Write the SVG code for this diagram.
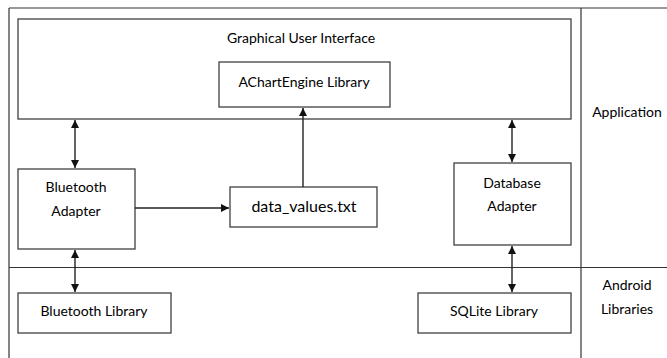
<svg xmlns="http://www.w3.org/2000/svg" width="667" height="358" viewBox="0 0 667 358">
<style>
.box{fill:#fff;stroke:#404040;stroke-width:1.3}
.frame{fill:none;stroke:#333;stroke-width:1.2}
.t{font-family:Lato,"Liberation Sans",Arial,sans-serif;font-size:14px;fill:#000;text-anchor:middle}
.big{font-size:16px}
.c{fill:none;stroke:#222;stroke-width:1.4}
</style>
<defs>
<marker id="ah" viewBox="0 0 10 10" refX="10" refY="5" markerWidth="8" markerHeight="8" markerUnits="userSpaceOnUse" orient="auto-start-reverse">
<path d="M0,0 L10,5 L0,10 z" fill="#111"/>
</marker>
</defs>
<rect width="667" height="358" fill="#fff"/>
<g id="frame">
<line class="frame" x1="9" y1="8" x2="667" y2="8"/>
<line class="frame" x1="9" y1="8" x2="9" y2="358"/>
<line class="frame" x1="581" y1="8" x2="581" y2="358"/>
<line class="frame" x1="9" y1="267.5" x2="667" y2="267.5"/>
</g>
<g id="gui">
<rect class="box" x="18" y="19" width="553" height="100"/>
<text class="t" x="301" y="43">Graphical User Interface</text>
</g>
<g id="achart">
<rect class="box" x="219" y="62" width="171" height="45"/>
<text class="t" x="304" y="87">AChartEngine Library</text>
</g>
<g id="bt-adapter">
<rect class="box" x="18" y="169" width="117" height="80"/>
<text class="t" x="76" y="192">Bluetooth</text>
<text class="t" x="76" y="216">Adapter</text>
</g>
<g id="data-values">
<rect class="box" x="230" y="187" width="147" height="40"/>
<text class="t big" x="304" y="212">data_values.txt</text>
</g>
<g id="db-adapter">
<rect class="box" x="454" y="163" width="117" height="82"/>
<text class="t" x="512" y="188">Database</text>
<text class="t" x="512" y="211">Adapter</text>
</g>
<g id="bt-library">
<rect class="box" x="18" y="293" width="153" height="40"/>
<text class="t" x="94" y="316">Bluetooth Library</text>
</g>
<g id="sqlite">
<rect class="box" x="418" y="293" width="153" height="40"/>
<text class="t" x="494" y="316">SQLite Library</text>
</g>
<g id="application">
<text class="t" x="627" y="117">Application</text>
</g>
<g id="android">
<text class="t" x="627" y="290">Android</text>
<text class="t" x="627" y="314">Libraries</text>
</g>
<g id="connectors">
<line class="c" x1="75" y1="120" x2="75" y2="168" marker-start="url(#ah)" marker-end="url(#ah)"/>
<line class="c" x1="75" y1="250" x2="75" y2="292" marker-start="url(#ah)" marker-end="url(#ah)"/>
<line class="c" x1="512" y1="120" x2="512" y2="162" marker-start="url(#ah)" marker-end="url(#ah)"/>
<line class="c" x1="512" y1="246" x2="512" y2="292" marker-start="url(#ah)" marker-end="url(#ah)"/>
<line class="c" x1="135" y1="208" x2="229" y2="208" marker-end="url(#ah)"/>
<line class="c" x1="303" y1="187" x2="303" y2="108" marker-end="url(#ah)"/>
</g>
</svg>
